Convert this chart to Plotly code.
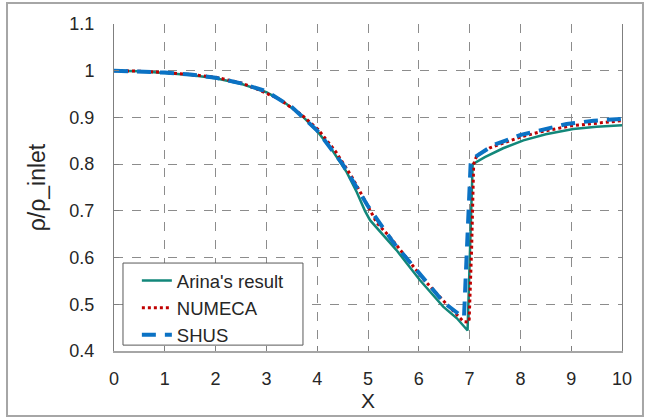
import plotly.graph_objects as go

# Arina's result
arina_x = [0, 0.5, 1, 1.5, 2, 2.5, 3, 3.33, 3.69, 4.02, 4.32, 4.58, 4.78, 4.94, 5.04, 5.3, 5.56,
           6.02, 6.48, 6.75, 6.96, 7.06, 7.3, 7.66, 8.06, 8.5, 9.04, 9.5, 10]
arina_y = [1.0, 0.999, 0.995, 0.991, 0.984, 0.972, 0.954, 0.934, 0.905, 0.868, 0.826, 0.783, 0.740,
           0.700, 0.680, 0.648, 0.616, 0.552, 0.495, 0.470, 0.444, 0.800, 0.815, 0.834, 0.851,
           0.864, 0.875, 0.880, 0.883]

# NUMECA
numeca_x = [0, 0.5, 1, 1.5, 2, 2.5, 2.81, 3.24, 3.69, 4.02, 4.37, 4.68, 4.89, 5.17, 5.47, 5.81,
            6.09, 6.48, 6.75, 6.88, 6.99, 7.04, 7.08, 7.14, 7.4, 7.73, 8.0, 8.39, 9.0, 9.62, 10]
numeca_y = [1.0, 0.999, 0.996, 0.992, 0.986, 0.974, 0.961, 0.940, 0.906, 0.874, 0.826, 0.773,
            0.732, 0.675, 0.639, 0.592, 0.554, 0.508, 0.477, 0.463, 0.462, 0.620, 0.800, 0.818,
            0.835, 0.848, 0.858, 0.869, 0.882, 0.889, 0.893]

# SHUS
shus_x = [0, 0.5, 1, 1.5, 2, 2.5, 3, 3.5, 4, 4.5, 5.0, 5.5, 6.0, 6.5, 6.85, 6.89, 6.92, 6.97,
          7.02, 7.06, 7.47, 7.99, 8.5, 8.91, 9.44, 10]
shus_y = [1.0, 0.999, 0.996, 0.992, 0.985, 0.973, 0.956, 0.922, 0.872, 0.800, 0.710, 0.632,
          0.566, 0.503, 0.474, 0.472, 0.55, 0.70, 0.800, 0.812, 0.841, 0.862, 0.876, 0.886,
          0.893, 0.897]

x_ticks = [0, 1, 2, 3, 4, 5, 6, 7, 8, 9, 10]
y_ticks = [0.4, 0.5, 0.6, 0.7, 0.8, 0.9, 1.0, 1.1]
y_tick_text = ["0.4", "0.5", "0.6", "0.7", "0.8", "0.9", "1", "1.1"]

fig = go.Figure()
fig.add_trace(go.Scatter(x=arina_x, y=arina_y, mode="lines", name="Arina's result",
                         line=dict(color="#12877a", width=2.5)))
fig.add_trace(go.Scatter(x=numeca_x, y=numeca_y, mode="lines", name="NUMECA",
                         line=dict(color="#c00000", width=3, dash="dot")))
fig.add_trace(go.Scatter(x=shus_x, y=shus_y, mode="lines", name="SHUS",
                         line=dict(color="#0b72c4", width=4, dash="14px,9px")))

txt = "#262626"
fig.update_layout(
    width=649, height=419,
    margin=dict(l=114, r=27, t=24, b=68),
    paper_bgcolor="white", plot_bgcolor="white",
    font=dict(family="Liberation Sans, Arial, sans-serif", color=txt, size=18),
    showlegend=True,
    legend=dict(x=0.045, y=0.272, xanchor="left", yanchor="top",
                bgcolor="rgba(0,0,0,0)", borderwidth=0,
                font=dict(size=18.5, color=txt), tracegroupgap=1),
    xaxis=dict(range=[0, 10], tickvals=x_ticks, ticks="inside", ticklen=5, tickcolor="#7f7f7f",
               showline=True, linecolor="#a6a6a6", linewidth=2, mirror=False,
               showgrid=True, gridcolor="#8c8c8c", griddash="dash", gridwidth=1,
               zeroline=False, ticklabelstandoff=10, tickfont=dict(size=18),
               title=dict(text="X", font=dict(size=21, color=txt), standoff=0)),
    yaxis=dict(range=[0.4, 1.1], tickvals=y_ticks, ticktext=y_tick_text, ticks="inside",
               ticklen=5, tickcolor="#7f7f7f",
               showline=True, linecolor="#7f7f7f", linewidth=1, mirror=True,
               showgrid=True, gridcolor="#8c8c8c", griddash="dash", gridwidth=1,
               zeroline=False, ticklabelstandoff=15, tickfont=dict(size=18),
               title=dict(text="ρ/ρ_inlet", font=dict(size=23, color=txt), standoff=17)),
    shapes=[
        dict(type="rect", xref="paper", yref="paper",
             x0=-0.2106, x1=1.0413, y0=-0.199, y1=1.064,
             line=dict(color="#a6a6a6", width=2), fillcolor="rgba(0,0,0,0)", layer="below"),
        dict(type="rect", xref="paper", yref="paper",
             x0=0.0177, x1=0.372, y0=0.018, y1=0.269,
             line=dict(color="#595959", width=1), fillcolor="white", layer="above"),
    ],
)

fig.write_html("out.html")
